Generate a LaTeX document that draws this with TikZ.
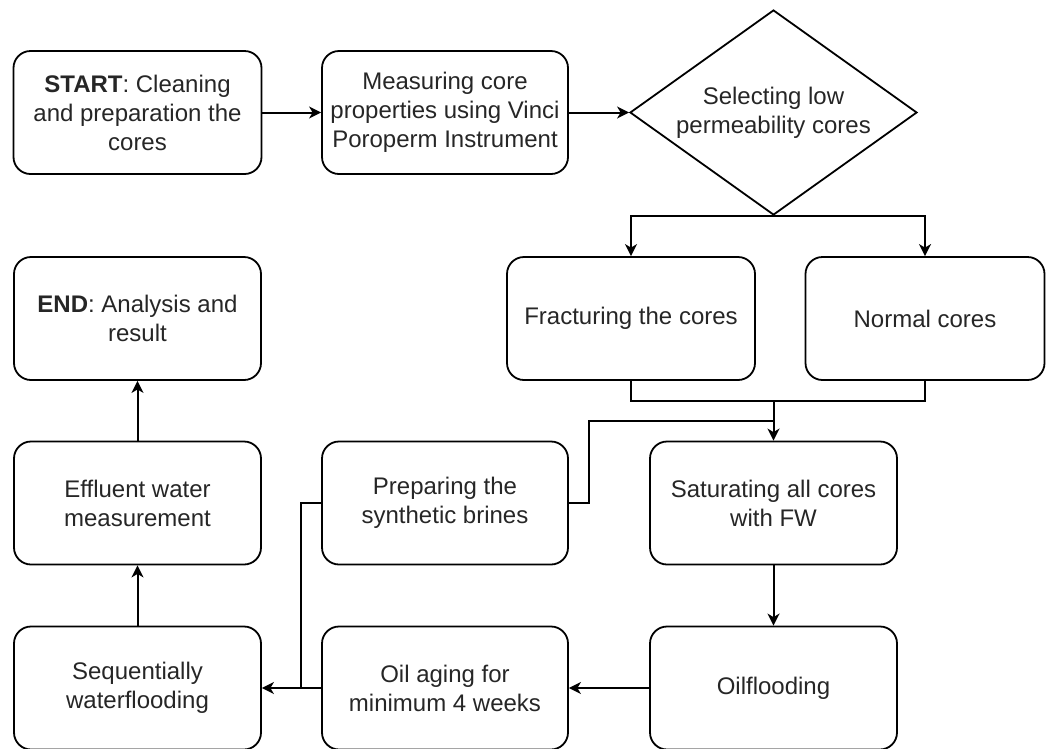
\documentclass[tikz,border=0pt]{standalone}
\usepackage{fontspec}
\setmainfont{Liberation Sans}
\usetikzlibrary{shapes.geometric,arrows.meta}
\tikzset{
  box/.style={draw=black, line width=1.8pt, rounded corners=17pt, align=center,
    inner sep=0pt, font=\fontsize{24}{29}\selectfont, text=black!85},
  decision/.style={draw=black, line width=1.8pt, shape=diamond, aspect=1.4, inner sep=0pt,
    minimum width=287pt, minimum height=205pt, align=center,
    font=\fontsize{24}{29}\selectfont, text=black!85},
  conn/.style={line width=2pt, draw=black},
  arr/.style={conn, -{Stealth[length=12pt,width=12pt,inset=3.5pt]}}
}
\begin{document}
\begin{tikzpicture}[x=1pt,y=-1pt]
\useasboundingbox (0,0) rectangle (1046,748);
% nodes
\node[box, minimum width=248pt, minimum height=123pt] (start) at (137.5,112.5) {\textbf{START}: Cleaning\\and preparation the\\cores};
\node[box, minimum width=246pt, minimum height=123pt] (meas) at (445,112.5) {Measuring core\\properties using Vinci\\Poroperm Instrument};
\node[decision] (dia) at (773.5,112.5) {Selecting low\\permeability cores};
\node[box, minimum width=248pt, minimum height=123pt] (frac) at (631,318.5) {Fracturing the cores};
\node[box, minimum width=239pt, minimum height=123pt] (norm) at (925,318.5) {Normal cores};
\node[box, minimum width=247pt, minimum height=123pt] (end) at (137.5,318.5) {\textbf{END}: Analysis and\\result};
\node[box, minimum width=247pt, minimum height=123pt] (eff) at (137.5,503) {Effluent water\\measurement};
\node[box, minimum width=246pt, minimum height=123pt] (brine) at (445,503) {Preparing the\\synthetic brines};
\node[box, minimum width=247pt, minimum height=123pt] (sat) at (773.5,503) {Saturating all cores\\with FW};
\node[box, minimum width=247pt, minimum height=123pt] (seq) at (137.5,688) {Sequentially\\waterflooding};
\node[box, minimum width=246pt, minimum height=123pt] (oil) at (445,688) {Oil aging for\\minimum 4 weeks};
\node[box, minimum width=247pt, minimum height=123pt] (oilf) at (773.5,688) {Oilflooding};
% helper coordinates
\coordinate (m) at (773.5,401);
\coordinate (bx) at (589,421);
\coordinate (bm) at (773.5,421);
\coordinate (j) at (301,688);
% connectors
\draw[arr] (start.east) -- (meas.west);
\draw[arr] (meas.east) -- (dia.west);
\draw[arr] (dia.south) -| (frac.north);
\draw[arr] (dia.south) -| (norm.north);
\draw[conn] (frac.south) |- (m);
\draw[conn] (norm.south) |- (m);
\draw[arr] (m) -- (sat.north);
\draw[conn] (brine.east) -| (bx) -- (bm);
\draw[conn] (brine.west) -| (j);
\draw[arr] (sat.south) -- (oilf.north);
\draw[arr] (oilf.west) -- (oil.east);
\draw[arr] (oil.west) -- (seq.east);
\draw[arr] (seq.north) -- (eff.south);
\draw[arr] (eff.north) -- (end.south);
\end{tikzpicture}
\end{document}
